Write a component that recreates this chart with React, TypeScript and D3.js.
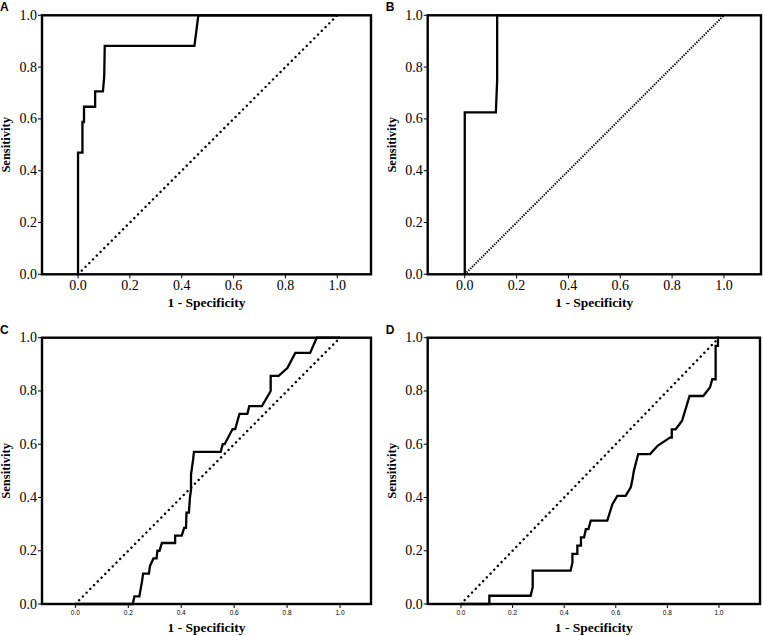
import * as d3 from 'd3'

// ROC curves: [1 - specificity, sensitivity]
const rocA: [number, number][] = [
  [0, 0], [0, 0.47], [0.017, 0.47], [0.017, 0.588], [0.023, 0.588], [0.023, 0.647],
  [0.066, 0.647], [0.066, 0.706], [0.096, 0.706], [0.101, 0.765], [0.103, 0.882],
  [0.449, 0.882], [0.464, 1], [1, 1],
]

const rocB: [number, number][] = [
  [0, 0], [0, 0.625], [0.12, 0.625], [0.125, 0.75], [0.125, 1], [1, 1],
]

const rocC: [number, number][] = [
  [0, 0], [0.217, 0], [0.223, 0.029], [0.242, 0.029], [0.252, 0.086], [0.256, 0.114],
  [0.278, 0.114], [0.282, 0.143], [0.295, 0.171], [0.307, 0.171], [0.31, 0.2],
  [0.318, 0.2], [0.327, 0.229], [0.377, 0.229], [0.377, 0.257], [0.402, 0.257],
  [0.411, 0.286], [0.418, 0.286], [0.42, 0.343], [0.429, 0.343], [0.433, 0.4],
  [0.437, 0.429], [0.437, 0.486], [0.445, 0.543], [0.448, 0.571], [0.549, 0.571],
  [0.557, 0.6], [0.564, 0.6], [0.594, 0.657], [0.604, 0.657], [0.62, 0.714],
  [0.65, 0.714], [0.657, 0.743], [0.705, 0.743], [0.738, 0.8], [0.738, 0.857],
  [0.768, 0.857], [0.801, 0.886], [0.831, 0.943], [0.887, 0.943], [0.912, 1], [1, 1],
]

const rocD: [number, number][] = [
  [0, 0], [0.11, 0], [0.11, 0.031], [0.27, 0.031], [0.278, 0.063], [0.278, 0.125],
  [0.425, 0.125], [0.432, 0.156], [0.432, 0.188], [0.451, 0.188], [0.451, 0.219],
  [0.465, 0.219], [0.465, 0.25], [0.477, 0.25], [0.484, 0.281], [0.494, 0.281],
  [0.503, 0.313], [0.567, 0.313], [0.587, 0.375], [0.606, 0.406], [0.638, 0.406],
  [0.658, 0.438], [0.665, 0.469], [0.67, 0.5], [0.687, 0.563], [0.733, 0.563],
  [0.762, 0.594], [0.81, 0.625], [0.817, 0.625], [0.817, 0.656], [0.832, 0.656],
  [0.857, 0.688], [0.886, 0.781], [0.939, 0.781], [0.965, 0.813], [0.974, 0.844],
  [0.987, 0.844], [0.987, 0.969], [0.996, 0.969], [0.996, 1], [1, 1],
]

const reference: [number, number][] = [[0, 0], [1, 1]]

const tickValues = [0, 0.2, 0.4, 0.6, 0.8, 1.0]
const panelLetters = ['A', 'B', 'C', 'D']
const xTitle = '1 - Specificity'
const yTitle = 'Sensitivity'

const serif = "'Liberation Serif', 'Times New Roman', Times, 'DejaVu Serif', serif"
const sans = "'Liberation Sans', Arial, sans-serif"

interface PanelProps {
  letter: string
  data: [number, number][]
  box: { left: number; right: number; top: number; bottom: number }
  xDomain: [number, number]
  smallXTicks: boolean
  denseDiagonal: boolean
  letterY: number
}

function RocPanel({ letter, data, box, xDomain, smallXTicks, denseDiagonal, letterY }: PanelProps) {
  const x = d3.scaleLinear().domain(xDomain).range([box.left, box.right])
  const y = d3.scaleLinear().domain([0, 1]).range([box.bottom, box.top])
  const line = d3
    .line<[number, number]>()
    .x((d) => x(d[0]))
    .y((d) => y(d[1]))
  const cx = (box.left + box.right) / 2
  const cy = (box.top + box.bottom) / 2

  return (
    <g>
      <text x={box.left - 42} y={letterY} style={{ fontFamily: sans, fontWeight: 'bold', fontSize: 12 }}>
        {letter}
      </text>
      <path
        d={line(reference) ?? ''}
        fill="none"
        stroke="#000"
        strokeWidth={denseDiagonal ? 2 : 2.4}
        strokeDasharray={denseDiagonal ? '1.3 1.3' : '0.1 5.2'}
        strokeLinecap={denseDiagonal ? 'butt' : 'round'}
      />
      <path d={line(data) ?? ''} fill="none" stroke="#000" strokeWidth={2.3} strokeLinejoin="miter" />
      <rect
        x={box.left}
        y={box.top}
        width={box.right - box.left}
        height={box.bottom - box.top}
        fill="none"
        stroke="#000"
        strokeWidth={2.4}
      />
      {tickValues.map((t) => (
        <g key={'y' + t}>
          <line x1={box.left - 4} x2={box.left} y1={y(t)} y2={y(t)} stroke="#000" strokeWidth={1} />
          <text
            x={box.left - 5}
            y={y(t) + 4.5}
            textAnchor="end"
            style={{ fontFamily: serif, fontSize: 14 }}
          >
            {t.toFixed(1)}
          </text>
        </g>
      ))}
      {tickValues.map((t) => (
        <g key={'x' + t}>
          <line x1={x(t)} x2={x(t)} y1={box.bottom} y2={box.bottom + 4} stroke="#000" strokeWidth={1} />
          {smallXTicks ? (
            <text x={x(t)} y={box.bottom + 11} textAnchor="middle" style={{ fontFamily: sans, fontSize: 6.5 }}>
              {t.toFixed(1)}
            </text>
          ) : (
            <text x={x(t)} y={box.bottom + 16} textAnchor="middle" style={{ fontFamily: serif, fontSize: 14 }}>
              {t.toFixed(1)}
            </text>
          )}
        </g>
      ))}
      <text
        x={cx}
        y={box.bottom + (smallXTicks ? 28 : 33)}
        textAnchor="middle"
        style={{ fontFamily: serif, fontWeight: 'bold', fontSize: 13.5 }}
      >
        {xTitle}
      </text>
      <text
        transform={`translate(${box.left - 32},${cy}) rotate(-90)`}
        textAnchor="middle"
        style={{ fontFamily: serif, fontWeight: 'bold', fontSize: 12.5 }}
      >
        {yTitle}
      </text>
    </g>
  )
}

export default function App() {
  const panels: PanelProps[] = [
    {
      letter: panelLetters[0],
      data: rocA,
      box: { left: 42, right: 371, top: 15.3, bottom: 274.3 },
      xDomain: [-0.139, 1.13],
      smallXTicks: false,
      denseDiagonal: false,
      letterY: 11,
    },
    {
      letter: panelLetters[1],
      data: rocB,
      box: { left: 427.7, right: 761, top: 15.3, bottom: 274.3 },
      xDomain: [-0.143, 1.143],
      smallXTicks: false,
      denseDiagonal: true,
      letterY: 11,
    },
    {
      letter: panelLetters[2],
      data: rocC,
      box: { left: 42, right: 371, top: 337.7, bottom: 604 },
      xDomain: [-0.126, 1.117],
      smallXTicks: true,
      denseDiagonal: false,
      letterY: 334,
    },
    {
      letter: panelLetters[3],
      data: rocD,
      box: { left: 427.7, right: 760, top: 337.7, bottom: 604 },
      xDomain: [-0.129, 1.159],
      smallXTicks: true,
      denseDiagonal: false,
      letterY: 334,
    },
  ]

  return (
    <svg
      width={763}
      height={636}
      style={{ position: 'absolute', left: 0, top: 0, background: '#fff' }}
    >
      {panels.map((p) => (
        <RocPanel key={p.letter} {...p} />
      ))}
    </svg>
  )
}
